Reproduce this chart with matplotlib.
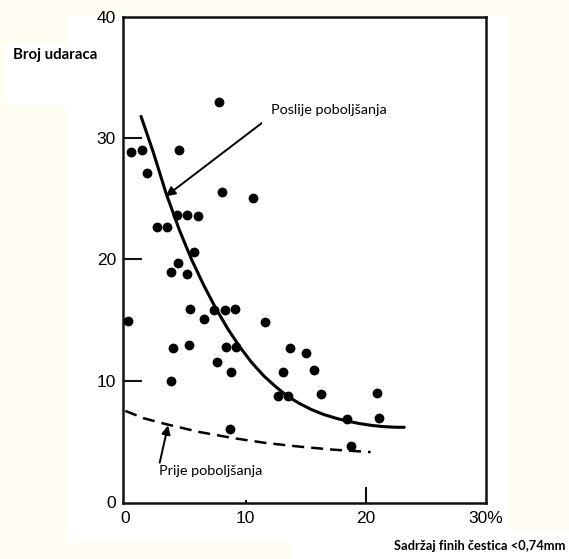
import matplotlib
matplotlib.use("Agg")
import matplotlib.pyplot as plt
from matplotlib.patches import Rectangle

# ---- data ----
pts_x = [7.8, 0.5, 1.4, 4.5, 1.8, 8.0, 10.6, 2.6, 3.5, 4.3, 5.1, 6.0, 5.7, 4.4,
         3.8, 5.1, 0.2, 5.4, 6.5, 7.4, 8.3, 9.1, 4.0, 5.3, 8.4, 9.2, 7.6, 8.8,
         3.8, 11.6, 13.1, 13.7, 15.0, 15.7, 12.7, 13.5, 16.3, 8.7, 18.4, 18.8,
         20.9, 21.1]
pts_y = [33.0, 28.9, 29.0, 29.0, 27.1, 25.6, 25.1, 22.7, 22.7, 23.7, 23.7, 23.6, 20.6, 19.7,
         19.0, 18.8, 14.9, 15.9, 15.1, 15.8, 15.8, 15.9, 12.7, 12.9, 12.8, 12.8, 11.5, 10.7,
         10.0, 14.8, 10.7, 12.7, 12.3, 10.9, 8.7, 8.7, 8.9, 6.0, 6.8, 4.6,
         9.0, 6.9]

after_x = [1.3, 2.3, 3.4, 4.5, 5.5, 6.5, 7.5, 8.5, 9.5, 10.5, 11.5, 12.5, 13.5, 14.5,
           15.5, 16.5, 17.5, 18.5, 19.5, 20.5, 21.5, 22.5, 23.2]
after_y = [31.8, 28.9, 25.4, 22.4, 20.0, 17.9, 16.0, 14.3, 12.8, 11.5, 10.4, 9.5, 8.7, 8.1,
           7.6, 7.2, 6.9, 6.65, 6.45, 6.3, 6.2, 6.15, 6.15]

before_x = [0.0, 1.5, 3.4, 6.2, 9.0, 11.7, 14.5, 17.3, 20.4]
before_y = [7.5, 6.9, 6.4, 5.75, 5.25, 4.85, 4.55, 4.3, 4.1]

x_ticks = [0, 10, 20, 30]
x_ticklabels = ["0", "10", "20", "30%"]
y_ticks = [0, 10, 20, 30, 40]
y_ticklabels = ["0", "10", "20", "30", "40"]

label_after = "Poslije poboljšanja"
label_before = "Prije poboljšanja"
y_title = "Broj udaraca"
x_title = "Sadržaj finih čestica <0,74mm"

# ---- figure ----
W, H = 569, 559
fig = plt.figure(figsize=(W / 100, H / 100), dpi=100, facecolor="#fffdf1")
# white paper areas (drawn behind everything)
for (x0, y0, x1, y1) in [(66, 15, 510, 542), (5, 43, 120, 105), (290, 530, W, H)]:
    fig.patches.append(Rectangle((x0 / W, 1 - y1 / H), (x1 - x0) / W, (y1 - y0) / H,
                                 transform=fig.transFigure, facecolor="white",
                                 edgecolor="none", zorder=-10))

ax = fig.add_axes([123 / W, 1 - 503 / H, (486 - 123) / W, (503 - 17) / H])
ax.set_facecolor("white")
ax.set_xlim(-0.2, 30)
ax.set_ylim(-0.1, 40)

for s in ax.spines.values():
    s.set_linewidth(1.8)
    s.set_color("#111111")

tickfont = dict(family="Liberation Sans", size=12.5)
ax.set_xticks(x_ticks)
ax.set_xticklabels(x_ticklabels, **tickfont)
ax.set_yticks(y_ticks)
ax.set_yticklabels(y_ticklabels, **tickfont)
ax.tick_params(axis="both", direction="in", width=1.5, color="#111111")
ax.tick_params(axis="x", pad=6)
ax.tick_params(axis="y", pad=5)

xlen = {0: 0, 10: 2.5, 20: 11.5, 30: 0}
for t, v in zip(ax.xaxis.get_major_ticks(), x_ticks):
    t.tick1line.set_markersize(xlen[v])
    t.tick2line.set_visible(False)
ylen = {0: 0, 10: 13.5, 20: 13.5, 30: 13.5, 40: 0}
for t, v in zip(ax.yaxis.get_major_ticks(), y_ticks):
    t.tick1line.set_markersize(ylen[v])
    t.tick2line.set_visible(False)

ax.scatter(pts_x, pts_y, s=50, color="black", zorder=3, linewidths=0)
ax.plot(after_x, after_y, color="black", lw=2.2, solid_capstyle="round",
        solid_joinstyle="round", zorder=2)
ax.plot(before_x, before_y, color="black", lw=1.8, dashes=(4.8, 2.8), zorder=2)

ax.annotate(label_after, xy=(3.35, 25.2), xytext=(16.9, 32.3), ha="center", va="center",
            fontsize=10.4, family=["Lato", "DejaVu Sans"],
            arrowprops=dict(arrowstyle="-|>", color="black", lw=1.4, mutation_scale=14,
                            shrinkA=0, shrinkB=0, relpos=(0.0, 0.0)),
            bbox=dict(facecolor="white", edgecolor="none", pad=6))
ax.annotate(label_before, xy=(3.55, 6.3), xytext=(7.1, 2.5), ha="center", va="center",
            fontsize=10.4, family=["Lato", "DejaVu Sans"],
            arrowprops=dict(arrowstyle="-|>", color="black", lw=1.4, mutation_scale=13,
                            shrinkA=0, shrinkB=0, relpos=(0.0, 1.0)))

fig.text(13 / W, 1 - 55 / H, y_title, ha="left", va="center", fontsize=10.8,
         fontweight="bold", family=["Lato", "DejaVu Sans"])
fig.text(566 / W, 1 - 546 / H, x_title, ha="right", va="center", fontsize=9.3,
         fontweight="bold", family=["Lato", "DejaVu Sans"])

fig.savefig("out.png", dpi=100, facecolor=fig.get_facecolor())
